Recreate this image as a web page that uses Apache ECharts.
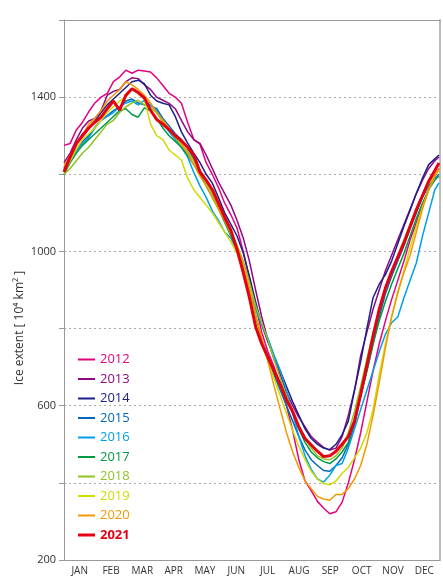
<!DOCTYPE html>
<html>
<head>
<meta charset="utf-8">
<script src="https://cdn.jsdelivr.net/npm/echarts@6/dist/echarts.min.js"></script>
<style>
  html, body { margin: 0; padding: 0; background: #fff; }
  #chart { width: 443px; height: 576px; }
</style>
</head>
<body>
<div id="chart"></div>
<script>
// 月份标签
var months = ["JAN", "FEB", "MAR", "APR", "MAY", "JUN", "JUL", "AUG", "SEP", "OCT", "NOV", "DEC"];
var yLabels = [200, 600, 1000, 1400];

// 年内天数（每 6 天取一个点）
var days = [0, 6, 12, 18, 24, 30, 36, 42, 48, 54, 60, 66, 72, 78, 84, 90, 96, 102, 108, 114,
  120, 126, 132, 138, 144, 150, 156, 162, 168, 174, 180, 186, 192, 198, 204, 210, 216, 222, 228, 234,
  240, 246, 252, 258, 264, 270, 276, 282, 288, 294, 300, 306, 312, 318, 324, 330, 336, 342, 348, 354, 360, 364];

// 各年海冰面积 (10^4 km²)
var y2012 = [1275, 1280, 1315, 1335, 1362, 1385, 1400, 1410, 1440, 1452,
  1470, 1462, 1470, 1468, 1465, 1450, 1430, 1410, 1400, 1384,
  1335, 1290, 1278, 1230, 1200, 1165, 1125, 1095, 1060, 1000,
  930, 860, 790, 740, 700, 655, 600, 535, 460, 405,
  380, 352, 335, 320, 325, 350, 400, 460, 530, 610,
  690, 760, 820, 875, 925, 975, 1030, 1075, 1120, 1160,
  1195, 1215];
var y2013 = [1230, 1255, 1290, 1320, 1338, 1345, 1365, 1405, 1415, 1420,
  1440, 1450, 1448, 1432, 1420, 1400, 1392, 1384, 1370, 1340,
  1310, 1290, 1280, 1250, 1215, 1180, 1150, 1120, 1080, 1035,
  975, 900, 830, 770, 720, 680, 635, 600, 570, 545,
  520, 505, 492, 485, 490, 520, 575, 640, 730, 790,
  850, 900, 950, 990, 1030, 1070, 1110, 1150, 1185, 1215,
  1235, 1245];
var y2014 = [1215, 1250, 1280, 1305, 1320, 1338, 1360, 1380, 1395, 1410,
  1425, 1440, 1444, 1435, 1405, 1390, 1384, 1380, 1350, 1310,
  1281, 1255, 1230, 1200, 1177, 1140, 1100, 1070, 1040, 996,
  935, 870, 810, 765, 727, 690, 650, 610, 575, 540,
  515, 500, 490, 486, 500, 525, 560, 640, 715, 800,
  880, 915, 940, 975, 1020, 1065, 1107, 1150, 1190, 1225,
  1240, 1250];
var y2015 = [1210, 1240, 1265, 1285, 1300, 1322, 1340, 1352, 1365, 1375,
  1390, 1395, 1385, 1380, 1378, 1370, 1345, 1325, 1305, 1290,
  1268, 1240, 1210, 1185, 1160, 1120, 1085, 1050, 1010, 955,
  890, 820, 765, 720, 680, 640, 600, 560, 520, 485,
  460, 445, 432, 430, 445, 465, 500, 550, 625, 690,
  760, 830, 890, 935, 975, 1015, 1060, 1100, 1140, 1170,
  1190, 1200];
var y2016 = [1210, 1235, 1260, 1280, 1295, 1320, 1340, 1350, 1360, 1375,
  1385, 1390, 1380, 1392, 1380, 1365, 1335, 1310, 1290, 1270,
  1245, 1205, 1170, 1140, 1105, 1080, 1050, 1035, 1000, 950,
  900, 850, 810, 775, 730, 690, 640, 580, 520, 470,
  435, 410, 402, 420, 445, 450, 490, 540, 590, 640,
  690, 740, 785, 815, 830, 880, 925, 970, 1040, 1100,
  1160, 1178];
var y2017 = [1200, 1230, 1255, 1275, 1290, 1305, 1320, 1335, 1350, 1365,
  1370, 1355, 1348, 1372, 1365, 1345, 1320, 1300, 1285, 1270,
  1250, 1225, 1200, 1170, 1140, 1110, 1075, 1040, 1005, 955,
  895, 825, 770, 730, 690, 650, 615, 580, 540, 505,
  480, 465, 455, 450, 462, 480, 505, 560, 625, 690,
  760, 820, 870, 915, 955, 995, 1040, 1085, 1125, 1160,
  1185, 1195];
var y2018 = [1200, 1215, 1235, 1255, 1270, 1290, 1310, 1330, 1340, 1360,
  1375, 1385, 1392, 1380, 1372, 1360, 1335, 1315, 1295, 1275,
  1260, 1235, 1205, 1180, 1150, 1115, 1080, 1045, 1015, 975,
  920, 860, 815, 770, 720, 670, 625, 585, 545, 515,
  490, 470, 462, 460, 470, 490, 530, 585, 650, 720,
  790, 850, 900, 945, 990, 1030, 1070, 1110, 1145, 1175,
  1200, 1210];
var y2019 = [1205, 1235, 1265, 1290, 1305, 1320, 1340, 1360, 1375, 1390,
  1400, 1420, 1410, 1395, 1330, 1300, 1290, 1263, 1250, 1237,
  1190, 1160, 1140, 1120, 1100, 1075, 1050, 1025, 995, 950,
  890, 820, 760, 715, 670, 625, 580, 535, 495, 460,
  430, 410, 398, 395, 405, 425, 440, 465, 490, 530,
  590, 680, 760, 830, 890, 950, 1010, 1065, 1115, 1160,
  1195, 1210];
var y2020 = [1220, 1250, 1275, 1300, 1330, 1345, 1365, 1390, 1405, 1420,
  1440, 1432, 1420, 1405, 1385, 1360, 1340, 1320, 1300, 1280,
  1255, 1225, 1195, 1170, 1140, 1110, 1080, 1050, 1015, 965,
  905, 840, 775, 715, 650, 590, 530, 480, 440, 405,
  385, 365, 358, 355, 370, 370, 385, 410, 445, 500,
  575, 660, 750, 830, 895, 945, 990, 1050, 1110, 1160,
  1195, 1215];
var y2021 = [1206, 1245, 1280, 1300, 1320, 1335, 1348, 1370, 1390, 1366,
  1405, 1422, 1412, 1398, 1366, 1342, 1330, 1316, 1300, 1287,
  1270, 1250, 1206, 1185, 1160, 1125, 1088, 1055, 1005, 945,
  880, 805, 760, 725, 690, 655, 615, 585, 545, 515,
  498, 482, 468, 470, 482, 500, 520, 560, 630, 705,
  780, 850, 905, 948, 985, 1022, 1065, 1108, 1145, 1182,
  1210, 1229];

var years = ["2012", "2013", "2014", "2015", "2016", "2017", "2018", "2019", "2020", "2021"];
var values = [y2012, y2013, y2014, y2015, y2016, y2017, y2018, y2019, y2020, y2021];
var colors = ["#e4007f", "#920783", "#1d2088", "#0068b7", "#00a0e9", "#009944", "#8fc31f", "#cfdb00", "#f39800", "#e60012"];

var myChart = echarts.init(document.getElementById("chart"));

var series = years.map(function (y, k) {
  return {
    name: y,
    type: "line",
    xAxisIndex: 0,
    symbol: "none",
    color: colors[k],
    lineStyle: { width: y === "2021" ? 3 : 1.5, color: colors[k] },
    data: days.map(function (d, i) { return [d, values[k][i]]; })
  };
});

var option = {
  animation: false,
  textStyle: { fontFamily: "Open Sans, sans-serif" },
  grid: { left: 64, right: 3, top: 20, bottom: 15 },
  legend: {
    orient: "vertical",
    left: 73,
    top: 348,
    itemWidth: 17,
    itemHeight: 14,
    itemGap: 6.5,
    textStyle: { fontSize: 13 },
    data: years.map(function (y, k) {
      return {
        name: y,
        icon: y === "2021" ? "path://M0,0 H17 V3 H0 Z" : "path://M0,0 H17 V2 H0 Z",
        itemStyle: { color: colors[k] },
        textStyle: { color: colors[k], fontWeight: y === "2021" ? "bold" : "normal" }
      };
    })
  },
  xAxis: [
    { type: "value", min: 0, max: 365, show: false },
    {
      type: "category",
      data: months,
      position: "bottom",
      boundaryGap: true,
      axisLine: { lineStyle: { color: "#999", width: 1 } },
      axisTick: { length: 5, lineStyle: { color: "#999" } },
      axisLabel: { color: "#333", fontSize: 10, margin: 6 },
      splitLine: { show: false }
    },
    {
      type: "category",
      data: months,
      position: "top",
      boundaryGap: true,
      axisLine: { lineStyle: { color: "#999", width: 1 } },
      axisTick: { length: 5, lineStyle: { color: "#999" } },
      axisLabel: { show: false },
      splitLine: { show: false }
    }
  ],
  yAxis: [
    {
      type: "value",
      min: 200,
      max: 1600,
      interval: 200,
      position: "left",
      axisLine: { show: true, lineStyle: { color: "#999", width: 1 } },
      axisTick: { show: true, length: 5, lineStyle: { color: "#999" } },
      axisLabel: {
        color: "#333",
        fontSize: 11,
        margin: 8,
        formatter: function (v) { return yLabels.indexOf(v) >= 0 ? v : ""; }
      },
      splitLine: { lineStyle: { color: "#aaa", type: [2, 3], width: 1 } }
    },
    {
      type: "value",
      min: 200,
      max: 1600,
      interval: 200,
      position: "right",
      axisLine: { show: true, lineStyle: { color: "#bbb", width: 2 } },
      axisTick: { show: false },
      axisLabel: { show: false },
      splitLine: { show: false }
    }
  ],
  graphic: [
    {
      type: "text",
      x: 20,
      y: 328,
      rotation: Math.PI / 2,
      style: {
        text: "Ice extent [ 10⁴ km² ]",
        fill: "#333",
        font: "12px Open Sans, sans-serif",
        align: "center",
        verticalAlign: "middle"
      }
    }
  ],
  series: series
};

myChart.setOption(option);
</script>
</body>
</html>
